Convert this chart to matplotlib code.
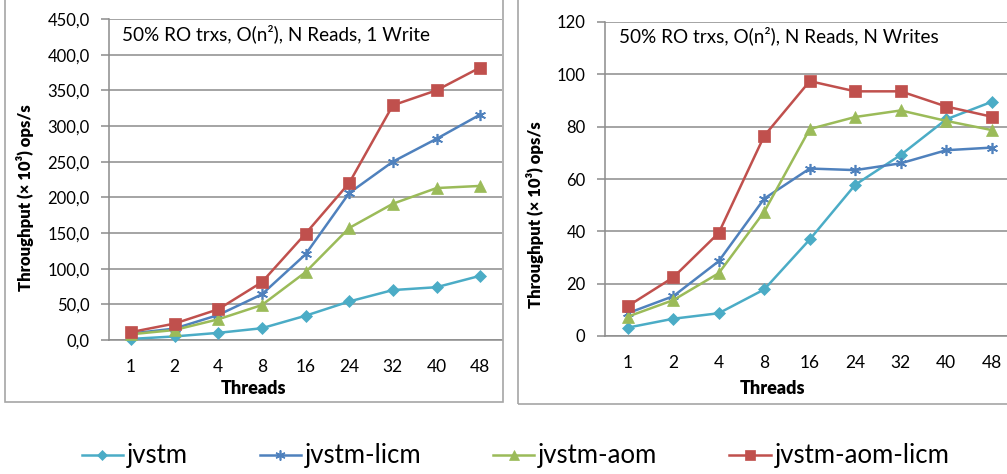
import matplotlib.pyplot as plt
from matplotlib.patches import Rectangle

plt.rcParams['font.family'] = ['Lato', 'DejaVu Sans']

threads = ['1', '2', '4', '8', '16', '24', '32', '40', '48']
series = ['jvstm', 'jvstm-licm', 'jvstm-aom', 'jvstm-aom-licm']

# 50% RO, N reads, 1 write
left_jvstm = [1.5, 5, 10, 16.5, 34, 54, 70, 74, 90]
left_licm = [9, 16, 35, 64, 120, 206, 250, 282, 316]
left_aom = [8, 14, 29, 49, 95, 157, 191, 213, 216]
left_aomlicm = [11, 23, 43, 81, 149, 220, 329, 350, 382]

# 50% RO, N reads, N writes
right_jvstm = [3.2, 6.6, 8.7, 17.8, 36.9, 57.8, 69.2, 82.8, 89.5]
right_licm = [8.7, 15.2, 28.6, 52.5, 64.0, 63.4, 66.0, 71.0, 72.0]
right_aom = [7.4, 13.7, 24.0, 47.5, 79.1, 83.7, 86.2, 82.2, 78.7]
right_aomlicm = [11.4, 22.4, 39.4, 76.5, 97.4, 93.5, 93.5, 87.7, 83.8]

colors = ['#4BACC6', '#4F81BD', '#9BBB59', '#C0504D']
markers = ['D', (6, 2, 0), '^', 's']
msizes = [6, 8, 8.5, 8.5]
grid_c = '#8C8C8C'

fig = plt.figure(figsize=(10.07, 4.74), dpi=100)


def draw(ax, data, ymax, ystep, fmt, title, tx):
    x = range(len(threads))
    for i, vals in enumerate(data):
        ax.plot(x, vals, color=colors[i], marker=markers[i], markersize=msizes[i],
                markeredgewidth=1.2 if i == 1 else 0.5, markeredgecolor=colors[i],
                linewidth=1.8, label=series[i], clip_on=False, zorder=3 + i)
    ax.set_xlim(-0.5, 8.5)
    ax.set_ylim(0, ymax)
    ax.set_xticks(list(x))
    ax.set_xticklabels(threads, fontsize=12.5)
    yt = [k * ystep for k in range(int(ymax / ystep) + 1)]
    ax.set_yticks(yt)
    ax.set_yticklabels([fmt(v) for v in yt], fontsize=12)
    ax.yaxis.grid(True, color=grid_c, linewidth=1.1, zorder=0)
    ax.set_axisbelow(True)
    for s in ['top', 'right']:
        ax.spines[s].set_visible(False)
    for s in ['left', 'bottom']:
        ax.spines[s].set_color(grid_c)
        ax.spines[s].set_linewidth(1.1)
    ax.tick_params(axis='y', direction='out', length=6, width=1.1, color=grid_c, pad=8)
    ax.tick_params(axis='x', length=0, pad=14)
    ax.text(tx, 0.955, title, transform=ax.transAxes, fontsize=13.6, va='center', ha='left')


ax1 = fig.add_axes([109 / 1007, 1 - 340 / 474, 393 / 1007, 321 / 474])
draw(ax1, [left_jvstm, left_licm, left_aom, left_aomlicm], 450, 50,
     lambda v: ('%.1f' % v).replace('.', ','),
     '50% RO trxs, O(n²), N Reads, 1 Write', (122 - 109) / 393)

ax2 = fig.add_axes([605 / 1007, 1 - 336 / 474, 409.5 / 1007, 314 / 474])
draw(ax2, [right_jvstm, right_licm, right_aom, right_aomlicm], 120, 20,
     lambda v: '%d' % v,
     '50% RO trxs, O(n²), N Reads, N Writes', (619 - 605) / 409.5)

ylab = 'Throughput (× 10³) ops/s'
fig.text(25 / 1007, 1 - 198 / 474, ylab, rotation=90, ha='center', va='center',
         fontsize=12, fontweight='heavy')
fig.text(535 / 1007, 1 - 215 / 474, ylab, rotation=90, ha='center', va='center',
         fontsize=12, fontweight='heavy')
fig.text(253 / 1007, 1 - 388 / 474, 'Threads', ha='center', va='center',
         fontsize=13, fontweight='heavy')
fig.text(773 / 1007, 1 - 388 / 474, 'Threads', ha='center', va='center',
         fontsize=13, fontweight='heavy')

# chart frames
fig.patches.append(Rectangle((5 / 1007, 1 - 402 / 474), 498 / 1007, 403 / 474,
                             transform=fig.transFigure, fill=False,
                             edgecolor='#A6A6A6', linewidth=1.2))
fig.patches.append(Rectangle((518 / 1007, 1 - 404 / 474), 500 / 1007, 405 / 474,
                             transform=fig.transFigure, fill=False,
                             edgecolor='#A6A6A6', linewidth=1.2))

handles, labels = ax1.get_legend_handles_labels()
fig.legend(handles, labels, ncol=4, loc='center', bbox_to_anchor=(0.512, 1 - 456 / 474),
           frameon=False, fontsize=18.5, handlelength=1.6, handletextpad=0.15,
           columnspacing=2.8, markerscale=0.9)

fig.savefig('out.png', dpi=100)
